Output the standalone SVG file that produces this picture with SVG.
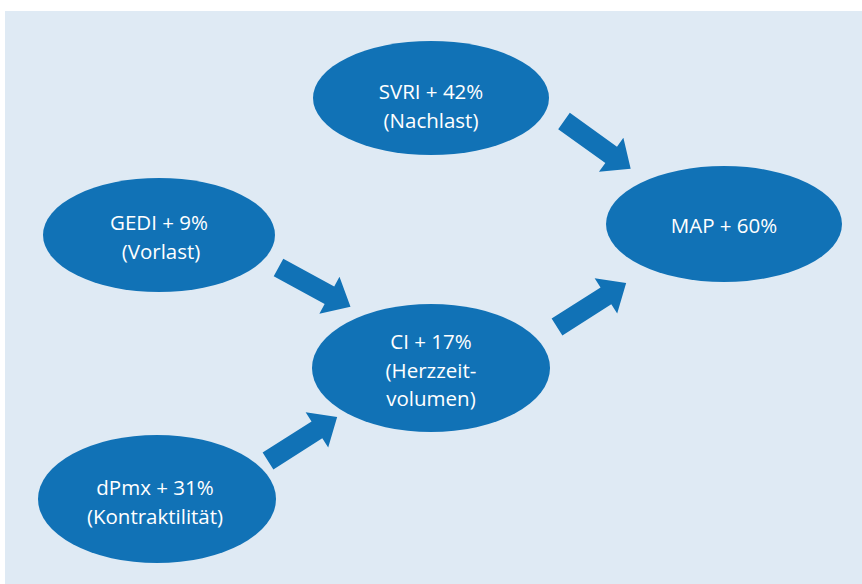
<svg xmlns="http://www.w3.org/2000/svg" width="862" height="584" viewBox="0 0 862 584">
<defs>
<style>
.bg{fill:#dfeaf4}
.node{fill:#1172b6}
.arr{fill:#1172b6}
text{font-family:"Open Sans","Noto Sans","Liberation Sans",sans-serif;font-size:20.5px;fill:#ffffff;text-anchor:middle}
</style>
<polygon id="blk" points="0,-10 58,-10 58,-21 82,0 58,21 58,10 0,10"/>
</defs>
<rect x="0" y="0" width="862" height="584" fill="#ffffff"/>
<rect class="bg" x="5" y="11" width="857" height="573"/>
<g id="connectors" class="arr">
<use href="#blk" transform="translate(564,121) rotate(35.6)"/>
<use href="#blk" transform="translate(278.5,267.5) rotate(28.6)"/>
<use href="#blk" transform="translate(557,327) rotate(-32.5)"/>
<use href="#blk" transform="translate(268,461) rotate(-32.5)"/>
</g>
<g id="svri"><ellipse class="node" cx="431" cy="98" rx="118" ry="57"/><text x="431" y="99">SVRI + 42%</text><text x="431" y="128">(Nachlast)</text></g>
<g id="gedi"><ellipse class="node" cx="159" cy="235" rx="116" ry="57"/><text x="159" y="230">GEDI + 9%</text><text x="161" y="259">(Vorlast)</text></g>
<g id="map"><ellipse class="node" cx="724" cy="224" rx="118" ry="58"/><text x="724" y="233">MAP + 60%</text></g>
<g id="ci"><ellipse class="node" cx="431" cy="368" rx="119" ry="64"/><text x="431" y="349">CI + 17%</text><text x="431" y="378">(Herzzeit-</text><text x="431" y="406">volumen)</text></g>
<g id="dpmx"><ellipse class="node" cx="157" cy="499" rx="119" ry="64"/><text x="155" y="495">dPmx + 31%</text><text x="155" y="524">(Kontraktilität)</text></g>
</svg>
